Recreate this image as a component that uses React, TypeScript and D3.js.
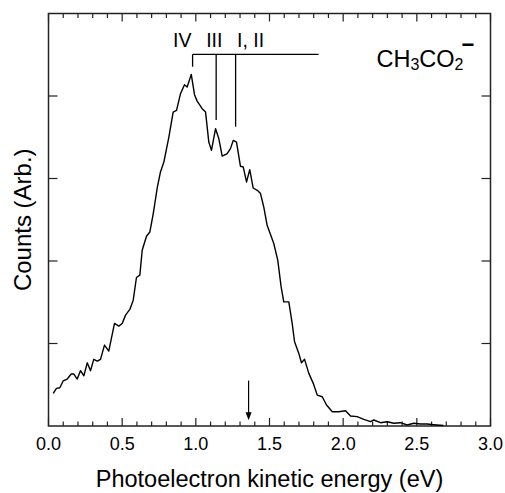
import React from 'react';
import * as d3 from 'd3';

// photoelectron spectrum (eV, arbitrary counts)
const energy = [
  0.032, 0.054, 0.077, 0.100, 0.127, 0.154, 0.172, 0.195, 0.217, 0.240,
  0.263, 0.285, 0.307, 0.331, 0.353, 0.380, 0.409, 0.448, 0.477, 0.500,
  0.523, 0.552, 0.575, 0.597, 0.620, 0.636, 0.665, 0.688, 0.711, 0.738,
  0.760, 0.783, 0.817, 0.846, 0.869, 0.896, 0.923, 0.941, 0.969, 0.991,
  1.009, 1.043, 1.066, 1.088, 1.106, 1.134, 1.156, 1.179, 1.213, 1.235,
  1.254, 1.276, 1.303, 1.322, 1.344, 1.366, 1.389, 1.417, 1.439, 1.461,
  1.484, 1.529, 1.556, 1.579, 1.597, 1.631, 1.654, 1.670, 1.699, 1.717,
  1.738, 1.767, 1.797, 1.824, 1.858, 1.887, 1.926, 1.970, 2.016, 2.050,
  2.095, 2.140, 2.186, 2.208, 2.253, 2.299, 2.344, 2.389, 2.435, 2.479,
  2.525, 2.570, 2.615, 2.681,
];
const counts = [
  0.396, 0.456, 0.464, 0.548, 0.569, 0.630, 0.630, 0.569, 0.670, 0.609,
  0.766, 0.670, 0.808, 0.787, 0.808, 0.981, 0.908, 1.243, 1.211, 1.243,
  1.344, 1.413, 1.525, 1.800, 1.828, 2.131, 2.300, 2.352, 2.575, 2.887,
  3.079, 3.200, 3.502, 3.805, 3.826, 4.028, 4.137, 4.108, 4.262, 4.016,
  3.938, 3.846, 3.805, 3.442, 3.341, 3.604, 3.483, 3.272, 3.301, 3.362,
  3.462, 3.442, 3.148, 3.139, 2.958, 3.108, 2.885, 2.857, 2.817, 2.655,
  2.433, 2.212, 2.010, 1.686, 1.505, 1.505, 1.243, 1.021, 0.880, 0.766,
  0.808, 0.638, 0.517, 0.375, 0.355, 0.254, 0.173, 0.173, 0.185, 0.121,
  0.113, 0.081, 0.052, 0.073, 0.040, 0.052, 0.033, 0.040, 0.012, 0.033,
  0.024, 0.024, 0.016, 0.006,
];

const xTickLabels = ['0.0', '0.5', '1.0', '1.5', '2.0', '2.5', '3.0'];
const yMajorTicks = [1, 2, 3, 4];

// vibrational assignments
const peakLabels = ['IV', 'III', 'I, II'];
const peakEnergy = [0.978, 1.138, 1.27];
const peakLineEnd = [4.355, 3.709, 3.628];
const peakLabelX = [0.845, 1.07, 1.28];
const combEnd = 1.833;
const combLevel = 4.505;
const labelLevel = 4.597;

const arrowEnergy = 1.358;
const arrowFrom = 0.55;
const arrowTo = 0.07;

const W = 505;
const H = 493;
const margin = { top: 13.5, right: 14.5, bottom: 67, left: 48.5 };

export default function App() {
  const x = d3.scaleLinear().domain([0, 3]).range([margin.left, W - margin.right]);
  const y = d3.scaleLinear().domain([0, 5]).range([H - margin.bottom, margin.top]);

  const pts: [number, number][] = energy.map((e, i) => [e, counts[i]]);
  const line = d3.line<[number, number]>().x(d => x(d[0])).y(d => y(d[1]));

  const minor = d3.range(0, 31).map(i => i / 10);
  const font = '"Liberation Sans", Arial, sans-serif';
  const yb = y(0), yt = y(5), xl = x(0), xr = x(3);

  return (
    <svg width={W} height={H} style={{ position: 'absolute', left: 0, top: 0, background: '#fff' }}>
      <g stroke="#222" strokeWidth={1.2}>
        {minor.map((v, i) => {
          const len = i % 5 === 0 ? 8 : 4.5;
          return (
            <g key={i}>
              <line x1={x(v)} x2={x(v)} y1={yb} y2={yb - len} />
              <line x1={x(v)} x2={x(v)} y1={yt} y2={yt + len} />
            </g>
          );
        })}
        {yMajorTicks.map(v => (
          <g key={v}>
            <line x1={xl} x2={xl + 9} y1={y(v)} y2={y(v)} />
            <line x1={xr} x2={xr - 9} y1={y(v)} y2={y(v)} />
          </g>
        ))}
      </g>
      <rect x={xl} y={yt} width={xr - xl} height={yb - yt} fill="none" stroke="#222" strokeWidth={1.5} />

      <path d={line(pts) || ''} fill="none" stroke="#000" strokeWidth={1.4} strokeLinejoin="round" />

      {/* assignment comb */}
      <g stroke="#000" strokeWidth={1.3}>
        <line x1={x(peakEnergy[0])} x2={x(combEnd)} y1={y(combLevel)} y2={y(combLevel)} />
        {peakEnergy.map((e, i) => (
          <line key={i} x1={x(e)} x2={x(e)} y1={y(combLevel)} y2={y(peakLineEnd[i])} />
        ))}
      </g>
      {peakLabels.map((t, i) => (
        <text key={t} x={x(peakLabelX[i])} y={y(labelLevel)} fontFamily={font} fontSize={19.5}>{t}</text>
      ))}

      {/* arrow */}
      <line x1={x(arrowEnergy)} x2={x(arrowEnergy)} y1={y(arrowFrom)} y2={y(arrowTo) - 5} stroke="#000" strokeWidth={1.2} />
      <path
        d={`M${x(arrowEnergy) - 3},${y(arrowTo) - 8} L${x(arrowEnergy) + 3},${y(arrowTo) - 8} L${x(arrowEnergy)},${y(arrowTo)} Z`}
        fill="#000"
      />

      {/* species label */}
      <text x={376.5} y={66.5} fontFamily={font} fontSize={23.5}>
        CH<tspan fontSize={16} dy={3}>3</tspan>
        <tspan dy={-3}>CO</tspan>
        <tspan fontSize={16} dy={3}>2</tspan>
        <tspan fontSize={22} fontWeight="bold" dy={-18} dx={-2}>−</tspan>
      </text>

      {xTickLabels.map((t, i) => (
        <text key={t} x={x(i * 0.5)} y={yb + 24} textAnchor="middle" fontFamily={font} fontSize={18}>{t}</text>
      ))}

      <text x={(xl + xr) / 2} y={486.5} textAnchor="middle" fontFamily={font} fontSize={23.5}>
        Photoelectron kinetic energy (eV)
      </text>
      <text transform={`translate(30.5,${(yt + yb) / 2}) rotate(-90)`} textAnchor="middle" fontFamily={font} fontSize={24}>
        Counts (Arb.)
      </text>
    </svg>
  );
}
